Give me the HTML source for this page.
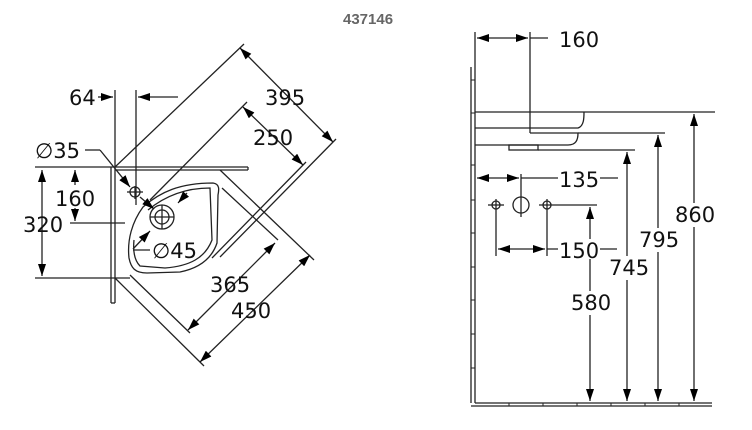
<!DOCTYPE html>
<html><head><meta charset="utf-8"><style>
html,body{margin:0;padding:0;background:#fff;}
svg{display:block;}
text{font-family:"DejaVu Sans","Liberation Sans",sans-serif;font-size:21px;fill:#111;}
</style></head><body>
<svg width="752" height="430" viewBox="0 0 752 430" xmlns="http://www.w3.org/2000/svg">
<defs>
<marker id="a" viewBox="0 0 12 8" refX="12" refY="4" markerWidth="13" markerHeight="8" markerUnits="userSpaceOnUse" orient="auto-start-reverse">
<path d="M0,0 L12,4 L0,8 z" fill="#000"/></marker>
</defs>
<text x="343" y="24" style="font-size:15px;font-weight:bold;fill:#666;font-family:'Liberation Sans',sans-serif">437146</text>
<g stroke="#222" stroke-width="1.3" fill="none">
<line x1="35" y1="167" x2="248" y2="167"/>
<line x1="115" y1="170" x2="248" y2="170"/>
<line x1="248" y1="167" x2="248" y2="170"/>
<line x1="111" y1="167" x2="111" y2="303"/><line x1="115" y1="167" x2="115" y2="303"/>
<line x1="111" y1="303" x2="115" y2="303"/>
<line x1="115" y1="90" x2="115" y2="167"/>
<line x1="136" y1="90" x2="136" y2="205"/>
<line x1="35" y1="278" x2="130" y2="278"/>
<line x1="70" y1="223" x2="125" y2="223"/>
<line x1="42" y1="170" x2="42" y2="276" marker-start="url(#a)" marker-end="url(#a)"/>
<line x1="75" y1="170" x2="75" y2="185" marker-start="url(#a)"/>
<line x1="75" y1="208" x2="75" y2="221" marker-end="url(#a)"/>
<line x1="98" y1="97" x2="113" y2="97" marker-end="url(#a)"/>
<line x1="178" y1="97" x2="138" y2="97" marker-end="url(#a)"/>
<line x1="115" y1="167" x2="244" y2="44"/>
<line x1="115" y1="278" x2="204" y2="366"/>
<line x1="240" y1="48" x2="333" y2="142" marker-start="url(#a)" marker-end="url(#a)"/>
<line x1="200" y1="362" x2="310" y2="255" marker-start="url(#a)" marker-end="url(#a)"/>
<line x1="336" y1="139" x2="220" y2="257"/>
<line x1="306" y1="162" x2="212" y2="258"/>
<line x1="150" y1="200" x2="247" y2="102"/>
<line x1="243" y1="107" x2="303" y2="165" marker-start="url(#a)" marker-end="url(#a)"/>
<line x1="188" y1="330" x2="275" y2="243" marker-start="url(#a)" marker-end="url(#a)"/>
<line x1="220" y1="170" x2="314" y2="260"/>
<line x1="222" y1="188" x2="278" y2="240"/>
<line x1="130" y1="275" x2="190" y2="333"/>
<path d="M143,207 C160,192 180,183 213,183 C220,184 219,190 218,195 L217,243 C212,258 200,268 180,272 L147,273 C135,273 131,268 129,258 C127,240 132,222 143,207 Z"/>
<path d="M148,210 C165,196 185,188 210,188 L212,240 C205,258 190,266 165,268 L140,266 C134,260 133,250 134,240"/>
<circle cx="135" cy="192" r="5"/>
<line x1="127" y1="192" x2="143" y2="192"/><line x1="135" y1="186" x2="135" y2="199"/>
<circle cx="162" cy="217" r="12"/><circle cx="162" cy="217" r="7"/>
<line x1="150" y1="217" x2="174" y2="217"/><line x1="162" y1="205" x2="162" y2="229"/>
<line x1="85" y1="150" x2="100" y2="150"/>
<line x1="100" y1="150" x2="130" y2="187" marker-end="url(#a)"/>
<line x1="154" y1="209" x2="140" y2="197" marker-start="url(#a)"/>
<line x1="133" y1="249" x2="150" y2="231" marker-end="url(#a)"/>
<line x1="178" y1="203" x2="187" y2="193" marker-start="url(#a)"/>
<line x1="133" y1="250" x2="150" y2="250"/>
<line x1="475" y1="32" x2="475" y2="403"/>
<line x1="471" y1="67" x2="471" y2="403"/>
<line x1="475" y1="403" x2="712" y2="403"/>
<line x1="471" y1="406" x2="712" y2="406"/>
<line x1="530" y1="32" x2="530" y2="133"/>
<line x1="477" y1="38" x2="528" y2="38" marker-start="url(#a)" marker-end="url(#a)"/>
<line x1="530" y1="38" x2="553" y2="38"/>
<line x1="475" y1="112" x2="715" y2="112"/>
<path d="M475,128 L578,128 C584,126 584,118 584,112"/>
<path d="M530,133 L578,133 C578,140 576,145 568,145 L475,145"/>
<line x1="578" y1="133" x2="665" y2="133"/>
<rect x="509" y="145" width="29" height="5"/>
<line x1="538" y1="150" x2="635" y2="150"/>
<line x1="477" y1="178" x2="519" y2="178" marker-start="url(#a)" marker-end="url(#a)"/>
<line x1="521" y1="178" x2="618" y2="178"/>
<line x1="521" y1="174" x2="521" y2="217"/>
<circle cx="521" cy="205" r="8"/>
<circle cx="496" cy="205" r="4"/><circle cx="547" cy="205" r="4"/>
<line x1="488" y1="205" x2="504" y2="205"/><line x1="539" y1="205" x2="597" y2="205"/>
<line x1="496" y1="199" x2="496" y2="256"/><line x1="547" y1="199" x2="547" y2="256"/>
<line x1="498" y1="249" x2="545" y2="249" marker-start="url(#a)" marker-end="url(#a)"/>
<line x1="547" y1="249" x2="617" y2="249"/>
<line x1="694" y1="114" x2="694" y2="401" marker-start="url(#a)" marker-end="url(#a)"/>
<line x1="658" y1="135" x2="658" y2="401" marker-start="url(#a)" marker-end="url(#a)"/>
<line x1="627" y1="152" x2="627" y2="401" marker-start="url(#a)" marker-end="url(#a)"/>
<line x1="590" y1="207" x2="590" y2="401" marker-start="url(#a)" marker-end="url(#a)"/>
</g>
<g stroke="#222" stroke-width="1">
<line x1="471" y1="80" x2="475" y2="80"/><line x1="471" y1="113" x2="475" y2="113"/>
<line x1="471" y1="165" x2="475" y2="165"/><line x1="471" y1="200" x2="475" y2="200"/>
<line x1="471" y1="233" x2="475" y2="233"/><line x1="471" y1="267" x2="475" y2="267"/>
<line x1="471" y1="300" x2="475" y2="300"/><line x1="471" y1="334" x2="475" y2="334"/>
<line x1="471" y1="368" x2="475" y2="368"/>
<line x1="509" y1="403" x2="509" y2="406"/><line x1="543" y1="403" x2="543" y2="406"/>
<line x1="577" y1="403" x2="577" y2="406"/><line x1="611" y1="403" x2="611" y2="406"/>
<line x1="645" y1="403" x2="645" y2="406"/><line x1="679" y1="403" x2="679" y2="406"/>
</g>
<rect x="548" y="28" width="56" height="22" fill="#fff"/>
<text x="559" y="47">160</text>
<rect x="558" y="168" width="42" height="20" fill="#fff"/>
<text x="559" y="187">135</text>
<rect x="558" y="239" width="42" height="20" fill="#fff"/>
<text x="559" y="258">150</text>
<rect x="674" y="203" width="42" height="24" fill="#fff"/>
<text x="675" y="222">860</text>
<rect x="638" y="228" width="42" height="24" fill="#fff"/>
<text x="639" y="247">795</text>
<rect x="608" y="256" width="42" height="24" fill="#fff"/>
<text x="609" y="275">745</text>
<rect x="570" y="291" width="42" height="24" fill="#fff"/>
<text x="571" y="310">580</text>
<text x="69" y="105">64</text>
<text x="265" y="105">395</text>
<text x="253" y="145">250</text>
<text x="35" y="158">∅35</text>
<text x="55" y="206">160</text>
<text x="23" y="232">320</text>
<text x="152" y="258">∅45</text>
<text x="210" y="292">365</text>
<text x="231" y="318">450</text>
</svg>
</body></html>
